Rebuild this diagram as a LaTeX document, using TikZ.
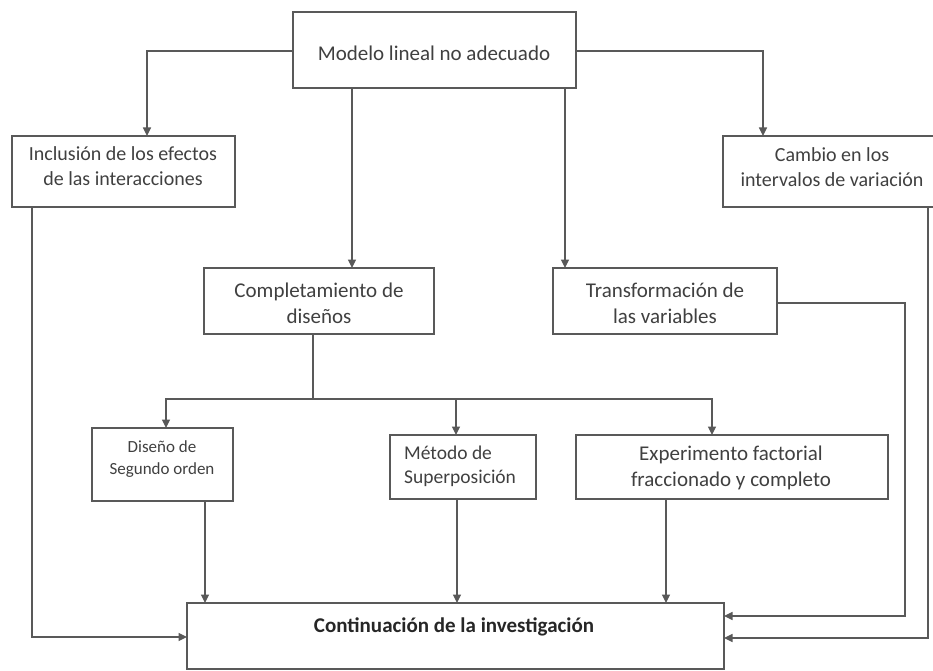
\documentclass[tikz,border=0pt]{standalone}
\usepackage{fontspec}
\setmainfont{Carlito}
\usetikzlibrary{arrows.meta}
\begin{document}
\begin{tikzpicture}[x=1pt,y=-1pt,
  box/.style={draw=black!65,line width=1.1pt,inner sep=0pt,outer sep=0pt,anchor=north west},
  txt/.style={text=black!75,font=\fontsize{21}{26}\selectfont,align=center,inner sep=0pt},
  conn/.style={draw=black!65,line width=1.1pt},
  arr/.style={conn,-{Triangle[length=8.5pt,width=8pt]}}]
\clip (0,0) rectangle (933,671);
\fill[white] (0,0) rectangle (933,671);
% boxes
\node[box,minimum width=283pt,minimum height=76pt] (top) at (293,12) {};
\node[box,minimum width=223pt,minimum height=71pt] (incl) at (12,136) {};
\node[box,minimum width=225pt,minimum height=71pt] (camb) at (723,136) {};
\node[box,minimum width=230pt,minimum height=66pt] (comp) at (204,268) {};
\node[box,minimum width=224pt,minimum height=66pt] (trans) at (553,268) {};
\node[box,minimum width=141pt,minimum height=73pt] (dis) at (92,428) {};
\node[box,minimum width=146pt,minimum height=64pt] (met) at (390,435) {};
\node[box,minimum width=312pt,minimum height=64pt] (exp) at (576,435) {};
\node[box,minimum width=537pt,minimum height=66pt] (cont) at (187,603) {};
% texts
\node[txt] (ttop) at (434,53) {Modelo lineal no adecuado};
\node[txt,font=\fontsize{20}{25}\selectfont] (tincl) at (123,166) {Inclusión de los efectos\\de las interacciones};
\node[txt,font=\fontsize{20}{25}\selectfont] (tcamb) at (832,167) {Cambio en los\\intervalos de variación};
\node[txt] (tcomp) at (319,303) {Completamiento de\\diseños};
\node[txt] (ttrans) at (665,303) {Transformación de\\las variables};
\node[txt,font=\fontsize{17}{22}\selectfont] (tdis) at (162,459) {Diseño de\\Segundo orden};
\node[txt,align=left,anchor=west,font=\fontsize{19.5}{24}\selectfont] (tmet) at (404,466) {Método de\\Superposición};
\node[txt] (texp) at (731,468) {Experimento factorial\\fraccionado y completo};
\node[txt,font=\fontsize{21}{26}\selectfont\bfseries,text=black!85] (tcont) at (454,627) {Continuación de la investigación};
% connectors
\draw[arr] (top.west |- 0,51) -| (incl.north -| 147,0);
\draw[arr] (top.east |- 0,51) -| (camb.north -| 763,0);
\draw[arr] (top.south -| 352,0) -- (comp.north -| 352,0);
\draw[arr] (top.south -| 565,0) -- (trans.north -| 565,0);
\draw[conn] (comp.south -| 313,0) -- (313,399) coordinate (hub);
\draw[arr] (hub) -| (dis.north -| 166,0);
\draw[arr] (hub) -| (exp.north -| 712,0);
\draw[arr] (hub -| 456,0) -- (met.north -| 456,0);
\draw[arr] (incl.south -| 32,0) |- (cont.west |- 0,637);
\draw[arr] (dis.south -| 205,0) -- (cont.north -| 205,0);
\draw[arr] (met.south -| 457,0) -- (cont.north -| 457,0);
\draw[arr] (exp.south -| 666,0) -- (cont.north -| 666,0);
\draw[arr] (trans.east |- 0,303) -- (905,303) |- (cont.east |- 0,616);
\draw[arr] (camb.south -| 928,0) |- (cont.east |- 0,638);
\end{tikzpicture}
\end{document}
